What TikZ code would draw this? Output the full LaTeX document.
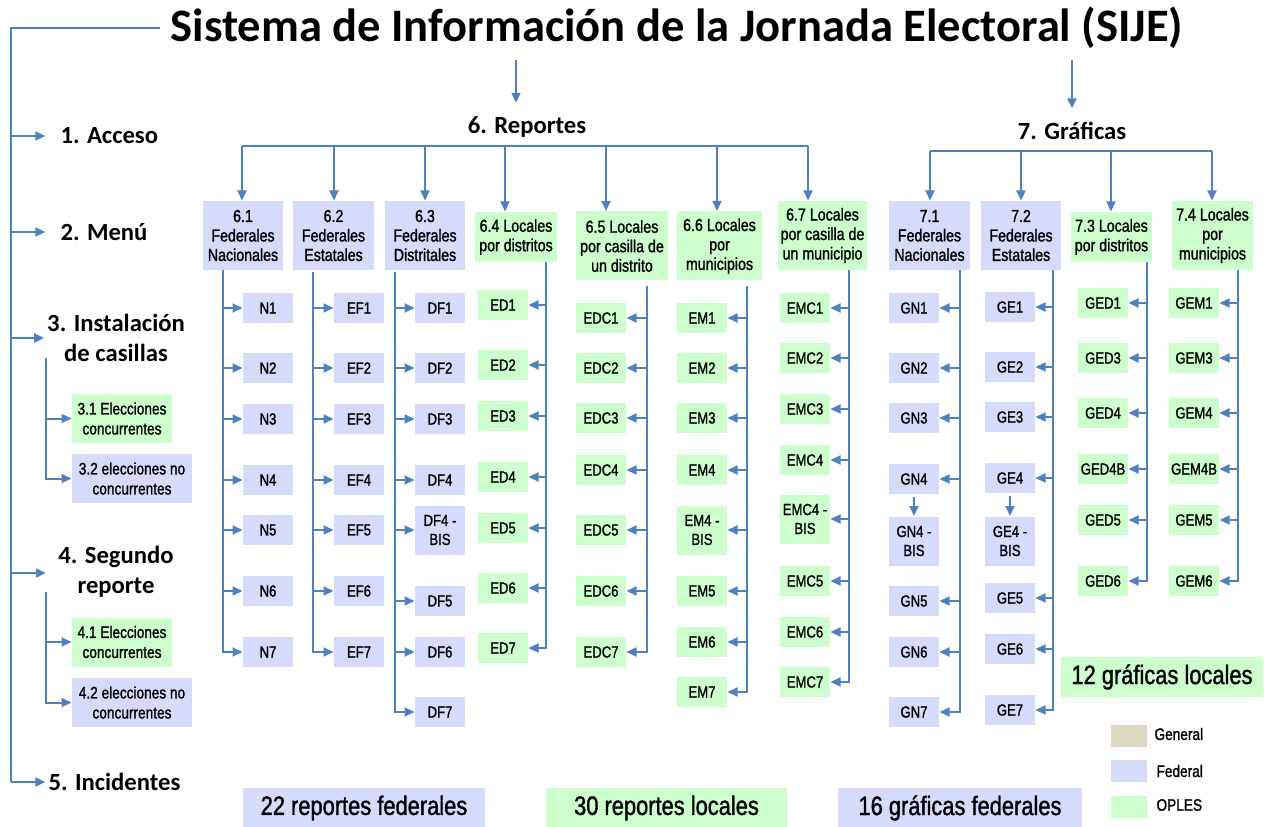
\documentclass[tikz,border=0pt]{standalone}
\usepackage{fontspec}
\setmainfont{Liberation Sans}
\newfontfamily\narrowfont[FakeStretch=0.82,FakeBold=1.3]{Liberation Sans}
\newfontfamily\calfont{Carlito}
\usetikzlibrary{arrows.meta}

\definecolor{linkblue}{RGB}{79,129,189}
\definecolor{fedblue}{RGB}{214,219,252}
\definecolor{oplgreen}{RGB}{204,255,204}
\definecolor{genbeige}{RGB}{221,217,195}

\tikzset{every picture/.style={line width=0.75pt}}
\tikzset{
  link/.style={draw=linkblue, line width=1.5pt},
  arr/.style={link, -{Triangle[length=7.5pt,width=6.75pt]}},
  titletext/.style={font=\calfont\bfseries\fontsize{34.9}{40}\selectfont, inner sep=0pt},
  stage/.style={font=\calfont\bfseries\fontsize{18.5}{22.5}\selectfont, inner sep=0pt, align=center},
  box/.style={inner sep=0pt, align=center, font=\narrowfont\fontsize{12}{14.25}\selectfont},
  fed/.style={box, fill=fedblue},
  opl/.style={box, fill=oplgreen},
  item/.style={minimum width=37.5pt, minimum height=22.5pt},
  bis/.style={minimum width=37.5pt, minimum height=36.75pt},
  hdr/.style={font=\narrowfont\fontsize{13}{14.6}\selectfont, minimum height=51.75pt},
  hdrlow/.style={font=\narrowfont\fontsize{13}{14.6}\selectfont, minimum height=37.5pt},
  sub/.style={font=\narrowfont\fontsize{12.5}{15}\selectfont, minimum height=36.75pt},
  total/.style={font=\narrowfont\fontsize{20}{24}\selectfont, minimum height=30pt},
  swatch/.style={minimum width=27pt, minimum height=16.5pt, inner sep=0pt},
  legendtext/.style={font=\narrowfont\fontsize{12.5}{15}\selectfont, anchor=west, inner sep=0pt},
}

\begin{document}
\begin{tikzpicture}[x=0.75pt,y=0.75pt,yscale=-1,xscale=1]
	\useasboundingbox (0,0) rectangle (1264,827);

	% Title
	\node[titletext] (ttl) at (677,28) {Sistema de Información de la Jornada Electoral (SIJE)};

	% Stages
	\node[stage,anchor=west] (acc) at (60,136) {1. Acceso};
	\node[stage,anchor=west] (menu) at (60,232) {2. Menú};
	\node[stage] (inst) at (116,338) {3. Instalación\\de casillas};
	\node[stage] (segr) at (116,572) {4. Segundo\\reporte};
	\node[stage,anchor=west] (inc) at (48,782) {5. Incidentes};
	\node[stage] (rep) at (527,127) {6. Reportes};
	\node[stage] (graf) at (1072,131) {7. Gráficas};

	% Spine on the left
	\coordinate (sp1) at (11,136);
	\coordinate (sp2) at (11,232);
	\coordinate (sp3) at (11,338);
	\coordinate (sp4) at (11,573);
	\coordinate (sp5) at (11,782);
	\draw[link] ([xshift=-7.5pt]ttl.west) -| (sp5);
	\draw[arr] (sp1) -- ([xshift=-11pt]acc.west);
	\draw[arr] (sp2) -- ([xshift=-11pt]menu.west);
	\draw[arr] (sp3) -- ([xshift=-2pt]inst.west);
	\draw[arr] (sp4) -- ([xshift=-9pt]segr.west |- sp4);
	\draw[arr] (sp5) -- ([xshift=-2pt]inc.west);

	% Instalacion de casillas
	\node[opl,sub,minimum width=75pt] (e31) at (122,418.5) {3.1 Elecciones\\concurrentes};
	\node[fed,sub,minimum width=90pt] (e32) at (132,478.5) {3.2 elecciones no\\concurrentes};
	\coordinate (s3) at (46,358);
	\draw[arr] (s3) |- (e31.west);
	\draw[arr] (s3) |- (e32.west);

	% Segundo reporte
	\node[opl,sub,minimum width=75pt] (e41) at (122,642) {4.1 Elecciones\\concurrentes};
	\node[fed,sub,minimum width=90pt] (e42) at (132,702.5) {4.2 elecciones no\\concurrentes};
	\coordinate (s4) at (46,592);
	\draw[arr] (s4) |- (e41.west);
	\draw[arr] (s4) |- (e42.west);

	% Reportes: headers
	\node[fed,hdr,minimum width=60pt] (r61) at (243,235.5) {6.1\\Federales\\Nacionales};
	\node[fed,hdr,minimum width=60.75pt] (r62) at (333.5,235.5) {6.2\\Federales\\Estatales};
	\node[fed,hdr,minimum width=60pt] (r63) at (425,235.5) {6.3\\Federales\\Distritales};
	\node[opl,hdrlow,minimum width=61.5pt] (r64) at (516,237) {6.4 Locales\\por distritos};
	\node[opl,hdr,minimum width=69pt] (r65) at (622,246) {6.5 Locales\\por casilla de\\un distrito};
	\node[opl,hdr,minimum width=63.75pt] (r66) at (719.5,246) {6.6 Locales\\por\\municipios};
	\node[opl,hdr,minimum width=66.75pt] (r67) at (822.5,235.5) {6.7 Locales\\por casilla de\\un municipio};

	% Graficas: headers
	\node[fed,hdr,minimum width=60.75pt] (g71) at (929.5,235.5) {7.1\\Federales\\Nacionales};
	\node[fed,hdr,minimum width=60pt] (g72) at (1021,235.5) {7.2\\Federales\\Estatales};
	\node[opl,hdrlow,minimum width=60.75pt] (g73) at (1111.5,237) {7.3 Locales\\por distritos};
	\node[opl,hdr,minimum width=60.75pt] (g74) at (1212.5,235.5) {7.4 Locales\\por\\municipios};

	% Title to Reportes and Graficas
	\coordinate (t6) at (516,60);
	\coordinate (t7) at (1072,60);
	\draw[arr,shorten >=10pt] (t6) -- (t6 |- rep.north);
	\draw[arr,shorten >=10pt] (t7) -- (t7 |- graf.north);

	% Reportes bus
	\coordinate (d61) at (242,146);
	\coordinate (d62) at (334,146);
	\coordinate (d63) at (425,146);
	\coordinate (d64) at (505,146);
	\coordinate (d65) at (606,146);
	\coordinate (d66) at (717,146);
	\coordinate (d67) at (808,146);
	\draw[link] (d61) -- (d67);
	\draw[arr] (d61) -- (d61 |- r61.north);
	\draw[arr] (d62) -- (d62 |- r62.north);
	\draw[arr] (d63) -- (d63 |- r63.north);
	\draw[arr] (d64) -- (d64 |- r64.north);
	\draw[arr] (d65) -- (d65 |- r65.north);
	\draw[arr] (d66) -- (d66 |- r66.north);
	\draw[arr] (d67) -- (d67 |- r67.north);

	% Graficas bus
	\coordinate (d71) at (930,151);
	\coordinate (d72) at (1021,151);
	\coordinate (d73) at (1111,151);
	\coordinate (d74) at (1212,151);
	\draw[link] (d71) -- (d74);
	\draw[arr] (d71) -- (d71 |- g71.north);
	\draw[arr] (d72) -- (d72 |- g72.north);
	\draw[arr] (d73) -- (d73 |- g73.north);
	\draw[arr] (d74) -- (d74 |- g74.north);

	% 6.1 Federales Nacionales
	\node[fed,item] (n1) at (268,308) {N1};
	\node[fed,item] (n2) at (268,368) {N2};
	\node[fed,item] (n3) at (268,419) {N3};
	\node[fed,item] (n4) at (268,480) {N4};
	\node[fed,item] (n5) at (268,530) {N5};
	\node[fed,item] (n6) at (268,591) {N6};
	\node[fed,item] (n7) at (268,652) {N7};
	\coordinate (cn) at (223,270);
	\draw[arr] (cn) |- (n1.west);
	\draw[arr] (cn) |- (n2.west);
	\draw[arr] (cn) |- (n3.west);
	\draw[arr] (cn) |- (n4.west);
	\draw[arr] (cn) |- (n5.west);
	\draw[arr] (cn) |- (n6.west);
	\draw[arr] (cn) |- (n7.west);

	% 6.2 Federales Estatales
	\node[fed,item] (ef1) at (359,308) {EF1};
	\node[fed,item] (ef2) at (359,368) {EF2};
	\node[fed,item] (ef3) at (359,419) {EF3};
	\node[fed,item] (ef4) at (359,480) {EF4};
	\node[fed,item] (ef5) at (359,530) {EF5};
	\node[fed,item] (ef6) at (359,591) {EF6};
	\node[fed,item] (ef7) at (359,652) {EF7};
	\coordinate (cef) at (313,272);
	\draw[arr] (cef) |- (ef1.west);
	\draw[arr] (cef) |- (ef2.west);
	\draw[arr] (cef) |- (ef3.west);
	\draw[arr] (cef) |- (ef4.west);
	\draw[arr] (cef) |- (ef5.west);
	\draw[arr] (cef) |- (ef6.west);
	\draw[arr] (cef) |- (ef7.west);

	% 6.3 Federales Distritales
	\node[fed,item] (df1) at (440,308) {DF1};
	\node[fed,item] (df2) at (440,368) {DF2};
	\node[fed,item] (df3) at (440,419) {DF3};
	\node[fed,item] (df4) at (440,480) {DF4};
	\node[fed,bis] (df4b) at (440,530) {DF4 -\\BIS};
	\node[fed,item] (df5) at (440,601) {DF5};
	\node[fed,item] (df6) at (440,652) {DF6};
	\node[fed,item] (df7) at (440,712) {DF7};
	\coordinate (cdf) at (395,272);
	\draw[arr] (cdf) |- (df1.west);
	\draw[arr] (cdf) |- (df2.west);
	\draw[arr] (cdf) |- (df3.west);
	\draw[arr] (cdf) |- (df4.west);
	\draw[arr] (cdf) |- (df4b.west);
	\draw[arr] (cdf) |- (df5.west);
	\draw[arr] (cdf) |- (df6.west);
	\draw[arr] (cdf) |- (df7.west);

	% 6.4 Locales por distritos
	\node[opl,item] (ed1) at (503,305) {ED1};
	\node[opl,item] (ed2) at (503,365) {ED2};
	\node[opl,item] (ed3) at (503,416) {ED3};
	\node[opl,item] (ed4) at (503,477) {ED4};
	\node[opl,item] (ed5) at (503,528) {ED5};
	\node[opl,item] (ed6) at (503,588) {ED6};
	\node[opl,item] (ed7) at (503,648) {ED7};
	\coordinate (ced) at (546,262);
	\draw[arr] (ced) |- (ed1.east);
	\draw[arr] (ced) |- (ed2.east);
	\draw[arr] (ced) |- (ed3.east);
	\draw[arr] (ced) |- (ed4.east);
	\draw[arr] (ced) |- (ed5.east);
	\draw[arr] (ced) |- (ed6.east);
	\draw[arr] (ced) |- (ed7.east);

	% 6.5 Locales por casilla de un distrito
	\node[opl,item] (edc1) at (601,318) {EDC1};
	\node[opl,item] (edc2) at (601,368) {EDC2};
	\node[opl,item] (edc3) at (601,418) {EDC3};
	\node[opl,item] (edc4) at (601,470) {EDC4};
	\node[opl,item] (edc5) at (601,530) {EDC5};
	\node[opl,item] (edc6) at (601,591) {EDC6};
	\node[opl,item] (edc7) at (601,652) {EDC7};
	\coordinate (cedc) at (647,286);
	\draw[arr] (cedc) |- (edc1.east);
	\draw[arr] (cedc) |- (edc2.east);
	\draw[arr] (cedc) |- (edc3.east);
	\draw[arr] (cedc) |- (edc4.east);
	\draw[arr] (cedc) |- (edc5.east);
	\draw[arr] (cedc) |- (edc6.east);
	\draw[arr] (cedc) |- (edc7.east);

	% 6.6 Locales por municipios
	\node[opl,item] (em1) at (702,318) {EM1};
	\node[opl,item] (em2) at (702,368) {EM2};
	\node[opl,item] (em3) at (702,418) {EM3};
	\node[opl,item] (em4) at (702,470) {EM4};
	\node[opl,bis] (em4b) at (702,530) {EM4 -\\BIS};
	\node[opl,item] (em5) at (702,591) {EM5};
	\node[opl,item] (em6) at (702,642) {EM6};
	\node[opl,item] (em7) at (702,692) {EM7};
	\coordinate (cem) at (747,286);
	\draw[arr] (cem) |- (em1.east);
	\draw[arr] (cem) |- (em2.east);
	\draw[arr] (cem) |- (em3.east);
	\draw[arr] (cem) |- (em4.east);
	\draw[arr] (cem) |- (em4b.east);
	\draw[arr] (cem) |- (em5.east);
	\draw[arr] (cem) |- (em6.east);
	\draw[arr] (cem) |- (em7.east);

	% 6.7 Locales por casilla de un municipio
	\node[opl,item] (emc1) at (805,308) {EMC1};
	\node[opl,item] (emc2) at (805,358) {EMC2};
	\node[opl,item] (emc3) at (805,409) {EMC3};
	\node[opl,item] (emc4) at (805,460) {EMC4};
	\node[opl,bis] (emc4b) at (805,519) {EMC4 -\\BIS};
	\node[opl,item] (emc5) at (805,581) {EMC5};
	\node[opl,item] (emc6) at (805,632) {EMC6};
	\node[opl,item] (emc7) at (805,682) {EMC7};
	\coordinate (cemc) at (849,270);
	\draw[arr] (cemc) |- (emc1.east);
	\draw[arr] (cemc) |- (emc2.east);
	\draw[arr] (cemc) |- (emc3.east);
	\draw[arr] (cemc) |- (emc4.east);
	\draw[arr] (cemc) |- (emc4b.east);
	\draw[arr] (cemc) |- (emc5.east);
	\draw[arr] (cemc) |- (emc6.east);
	\draw[arr] (cemc) |- (emc7.east);

	% 7.1 Graficas Federales Nacionales
	\node[fed,item] (gn1) at (914,308) {GN1};
	\node[fed,item] (gn2) at (914,368) {GN2};
	\node[fed,item] (gn3) at (914,418) {GN3};
	\node[fed,item] (gn4) at (914,479) {GN4};
	\node[fed,bis] (gn4b) at (914,541) {GN4 -\\BIS};
	\node[fed,item] (gn5) at (914,601) {GN5};
	\node[fed,item] (gn6) at (914,652) {GN6};
	\node[fed,item] (gn7) at (914,712) {GN7};
	\coordinate (cgn) at (960,270);
	\draw[arr] (cgn) |- (gn1.east);
	\draw[arr] (cgn) |- (gn2.east);
	\draw[arr] (cgn) |- (gn3.east);
	\draw[arr] (cgn) |- (gn4.east);
	\draw[arr] (cgn) |- (gn5.east);
	\draw[arr] (cgn) |- (gn6.east);
	\draw[arr] (cgn) |- (gn7.east);
	\draw[arr,shorten <=2pt] (gn4) -- (gn4b);

	% 7.2 Graficas Federales Estatales
	\node[fed,item] (ge1) at (1010,307) {GE1};
	\node[fed,item] (ge2) at (1010,367) {GE2};
	\node[fed,item] (ge3) at (1010,417) {GE3};
	\node[fed,item] (ge4) at (1010,478) {GE4};
	\node[fed,bis] (ge4b) at (1010,541) {GE4 -\\BIS};
	\node[fed,item] (ge5) at (1010,598) {GE5};
	\node[fed,item] (ge6) at (1010,649) {GE6};
	\node[fed,item] (ge7) at (1010,710) {GE7};
	\coordinate (cge) at (1053,270);
	\draw[arr] (cge) |- (ge1.east);
	\draw[arr] (cge) |- (ge2.east);
	\draw[arr] (cge) |- (ge3.east);
	\draw[arr] (cge) |- (ge4.east);
	\draw[arr] (cge) |- (ge5.east);
	\draw[arr] (cge) |- (ge6.east);
	\draw[arr] (cge) |- (ge7.east);
	\draw[arr,shorten <=2pt] (ge4) -- (ge4b);

	% 7.3 Graficas Locales por distritos
	\node[opl,item] (ged1) at (1103,303) {GED1};
	\node[opl,item] (ged3) at (1103,358) {GED3};
	\node[opl,item] (ged4) at (1103,413) {GED4};
	\node[opl,item] (ged4b) at (1103,469) {GED4B};
	\node[opl,item] (ged5) at (1103,520) {GED5};
	\node[opl,item] (ged6) at (1103,581) {GED6};
	\coordinate (cged) at (1147,262);
	\draw[arr] (cged) |- (ged1.east);
	\draw[arr] (cged) |- (ged3.east);
	\draw[arr] (cged) |- (ged4.east);
	\draw[arr] (cged) |- (ged4b.east);
	\draw[arr] (cged) |- (ged5.east);
	\draw[arr] (cged) |- (ged6.east);

	% 7.4 Graficas Locales por municipios
	\node[opl,item] (gem1) at (1194,303) {GEM1};
	\node[opl,item] (gem3) at (1194,358) {GEM3};
	\node[opl,item] (gem4) at (1194,413) {GEM4};
	\node[opl,item] (gem4b) at (1194,469) {GEM4B};
	\node[opl,item] (gem5) at (1194,520) {GEM5};
	\node[opl,item] (gem6) at (1194,581) {GEM6};
	\coordinate (cgem) at (1238,270);
	\draw[arr] (cgem) |- (gem1.east);
	\draw[arr] (cgem) |- (gem3.east);
	\draw[arr] (cgem) |- (gem4.east);
	\draw[arr] (cgem) |- (gem4b.east);
	\draw[arr] (cgem) |- (gem5.east);
	\draw[arr] (cgem) |- (gem6.east);

	% Totals
	\node[fed,total,minimum width=181.5pt] (totfed) at (364,808) {22 reportes federales};
	\node[opl,total,minimum width=180.75pt] (totloc) at (666.5,808) {30 reportes locales};
	\node[fed,total,minimum width=183pt] (totgf) at (960,808) {16 gráficas federales};
	\node[opl,total,minimum width=151.5pt] (totgl) at (1162,677) {12 gráficas locales};

	% Legend
	\node[swatch,fill=genbeige] (lgen) at (1129,736) {};
	\node[swatch,fill=fedblue] (lfed) at (1129,771) {};
	\node[swatch,fill=oplgreen] (lopl) at (1129,807) {};
	\node[legendtext] (tgen) at (1154,734) {General};
	\node[legendtext] (tfed) at (1156,771) {Federal};
	\node[legendtext] (topl) at (1156,805) {OPLES};

\end{tikzpicture}
\end{document}
